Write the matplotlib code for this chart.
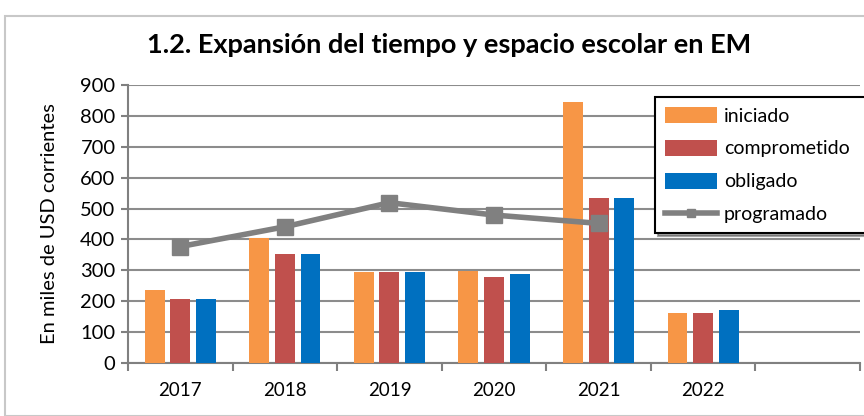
import numpy as np
import matplotlib
matplotlib.use("Agg")
import matplotlib.pyplot as plt
from matplotlib.patches import Rectangle
from matplotlib.lines import Line2D

plt.rcParams['font.family'] = ['Lato', 'DejaVu Sans']

years = ['2017', '2018', '2019', '2020', '2021', '2022']
iniciado = [236, 404, 296, 299, 844, 163]
comprometido = [208, 352, 296, 279, 533, 163]
obligado = [208, 352, 296, 287, 533, 172]
programado = [377, 441, 519, 479, 452]

c_ini = '#F79646'
c_com = '#C0504D'
c_obl = '#0070C0'
c_prog = '#808080'

fig = plt.figure(figsize=(8.64, 4.16), dpi=100)
ax = fig.add_axes([128/864, 1 - 363/416, 732/864, 278/416])

x = np.arange(len(years))
w = 0.19
off = 0.245
b1 = ax.bar(x - off, iniciado, w, color=c_ini, zorder=3)
b2 = ax.bar(x, comprometido, w, color=c_com, zorder=3)
b3 = ax.bar(x + off, obligado, w, color=c_obl, zorder=3)
ax.plot(x[:len(programado)], programado, color=c_prog, lw=4, marker='s',
        ms=12, zorder=4)

ax.set_xlim(-0.5, 6.5)
ax.set_ylim(0, 900)
ax.set_yticks(range(0, 901, 100))
ax.set_xticks(x)
ax.set_xticklabels(years)
ax.set_xticks(np.arange(-0.5, 7, 1), minor=True)
ax.tick_params(axis='x', which='major', length=0, pad=14, labelsize=13.5)
ax.tick_params(axis='x', which='minor', length=6, width=1.5, color='#808080', direction='out')
ax.tick_params(axis='y', length=5, width=1.5, color='#808080', labelsize=14.5, pad=4)
ax.grid(axis='y', color='#8c8c8c', lw=1.5, zorder=0)
for s in ['top', 'right']:
    ax.spines[s].set_visible(False)
for s in ['left', 'bottom']:
    ax.spines[s].set_color('#808080')
    ax.spines[s].set_linewidth(1.5)

ax.set_ylabel('En miles de USD corrientes', fontsize=14.5, labelpad=16)
fig.text(0.52, 1 - 45/416, '1.2. Expansión del tiempo y espacio escolar en EM',
         ha='center', va='center', fontsize=19.5, fontweight='bold')

prog_handle = Line2D([], [], color=c_prog, lw=4, marker='s', ms=6)
leg = fig.legend([b1, b2, b3, prog_handle],
                 ['iniciado', 'comprometido', 'obligado', 'programado'],
                 loc='upper left', bbox_to_anchor=(655/864, 1 - 97/416, 0.3, 0.0),
                 mode='expand', fontsize=14, frameon=True, fancybox=False,
                 shadow=True, edgecolor='black', borderpad=0.5, labelspacing=0.78,
                 handlelength=2.7, handleheight=0.9, handletextpad=0.35,
                 borderaxespad=0.0)
leg.get_frame().set_linewidth(1.5)

fig.patches.append(Rectangle((5/864, 0.0), 1.0, 1 - 16/416, transform=fig.transFigure,
                             fill=False, edgecolor='#c8c8c8', lw=1.5))

fig.savefig('out.png', dpi=100)
